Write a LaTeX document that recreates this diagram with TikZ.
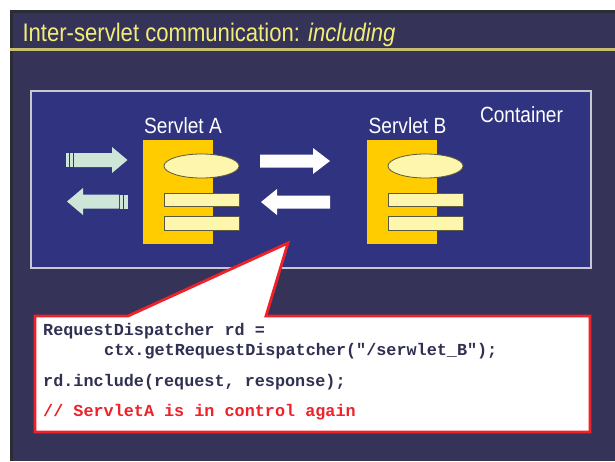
\documentclass[tikz,border=0pt]{standalone}
\usepackage{fontspec}
\usetikzlibrary{shapes.geometric}
\setmainfont{Liberation Sans}
\newfontfamily\narrowfont[FakeStretch=0.87]{Liberation Sans}
\newfontfamily\codefont{Liberation Mono}
\definecolor{slide}{HTML}{353458}
\definecolor{slideedge}{HTML}{2C2C36}
\definecolor{titleyellow}{HTML}{F2EC78}
\definecolor{titleline}{HTML}{C9BE6E}
\definecolor{contfill}{HTML}{2F3380}
\definecolor{contedge}{HTML}{C8C8D2}
\definecolor{servletyellow}{HTML}{FFCC00}
\definecolor{palefill}{HTML}{FFF6AE}
\definecolor{paleedge}{HTML}{5A5A40}
\definecolor{arrowgreen}{HTML}{CDE6D8}
\definecolor{calloutred}{HTML}{EE2228}
\definecolor{codecolor}{HTML}{303052}
\begin{document}
\begin{tikzpicture}[x=1pt,y=-1pt,
  lbl/.style={inner sep=0pt, text=white, font=\narrowfont\fontsize{22}{24}\selectfont},
  servletbox/.style={fill=servletyellow, draw=none},
  pale/.style={fill=palefill, draw=paleedge, line width=0.8pt},
  whitearrow/.style={fill=white, draw=none},
  greenarrow/.style={fill=arrowgreen, draw=none},
  code/.style={inner sep=0pt, anchor=base west, text=codecolor, font=\codefont\bfseries\fontsize{16.8}{18}\selectfont}]
\useasboundingbox (0,0) rectangle (615,461);
\fill[white] (0,0) rectangle (615,461);
% slide background
\fill[slide] (10,10) rectangle (615,461);
\fill[slideedge] (10,10) rectangle (615,13);
\fill[slideedge] (10,10) rectangle (12.5,461);
% title
\node[inner sep=0pt, anchor=base west, text=titleyellow, font=\narrowfont\fontsize{25.4}{28}\selectfont] (title) at (22.3,41.7) {Inter-servlet communication: \textit{including}};
\draw[titleline, line width=2.5pt] (10,49.5) -- (615,49.5);
% container
\node[draw=contedge, fill=contfill, line width=2pt, minimum width=560pt, minimum height=177pt, inner sep=0pt] (container) at (311,179.5) {};
\node[lbl, anchor=base] (contlbl) at (521.5,122.7) {Container};
% servlet A
\node[servletbox, minimum width=70pt, minimum height=104pt, inner sep=0pt] (sa) at (178,192) {};
\node[pale, ellipse, minimum width=75pt, minimum height=24pt, inner sep=0pt] (saell) at (201.5,166) {};
\node[pale, minimum width=75pt, minimum height=13pt, inner sep=0pt] (sabar1) at (201.5,199.5) {};
\node[pale, minimum width=75pt, minimum height=14pt, inner sep=0pt] (sabar2) at (201.5,223) {};
\node[lbl, anchor=base] (salbl) at (183,133) {Servlet A};
% servlet B
\node[servletbox, minimum width=70pt, minimum height=104pt, inner sep=0pt] (sb) at (402,192) {};
\node[pale, ellipse, minimum width=75pt, minimum height=24pt, inner sep=0pt] (sbell) at (425.5,166) {};
\node[pale, minimum width=75pt, minimum height=13pt, inner sep=0pt] (sbbar1) at (425.5,199.5) {};
\node[pale, minimum width=75pt, minimum height=14pt, inner sep=0pt] (sbbar2) at (425.5,223) {};
\node[lbl, anchor=base] (sblbl) at (407.5,133) {Servlet B};
% white arrows between servlets
\fill[whitearrow] (260,154.5) -- (313,154.5) -- (313,148) -- (330,161) -- (313,174) -- (313,167.5) -- (260,167.5) -- cycle;
\fill[whitearrow] (330,195.5) -- (277,195.5) -- (277,189) -- (261,202) -- (277,215) -- (277,208.5) -- (330,208.5) -- cycle;
% green arrows (outside)
\fill[greenarrow] (74,153) -- (112,153) -- (112,147) -- (127.5,160) -- (112,173) -- (112,167) -- (74,167) -- cycle;
\fill[greenarrow] (65.5,153) rectangle (68.8,167);
\fill[greenarrow] (70,153) rectangle (72.6,167);
\fill[greenarrow] (119,194.5) -- (83,194.5) -- (83,188) -- (67,201.5) -- (83,215) -- (83,208.5) -- (119,208.5) -- cycle;
\fill[greenarrow] (120.2,194.5) rectangle (122.8,208.5);
\fill[greenarrow] (124,194.5) rectangle (127.5,208.5);
% callout
\coordinate (tip) at (288,243);
\draw[fill=white, draw=calloutred, line width=2.8pt, line join=miter]
  (35,316) -- (128,316) -- (tip) -- (266,316) -- (590,316) -- (590,432) -- (35,432) -- cycle;
\node[code] (c1) at (43,335) {RequestDispatcher rd =};
\node[code] (c2) at (104,355.7) {ctx.getRequestDispatcher("/serwlet\_B");};
\node[code] (c3) at (43,386.7) {rd.include(request, response);};
\node[code, text=calloutred] (c4) at (43,416) {// ServletA is in control again};
\end{tikzpicture}
\end{document}
